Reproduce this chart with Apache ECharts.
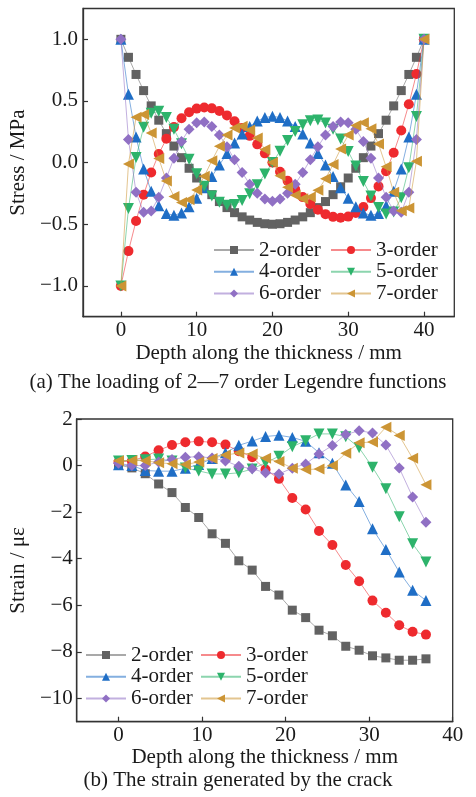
<!DOCTYPE html>
<html>
<head>
<meta charset="utf-8">
<script src="https://cdn.jsdelivr.net/npm/echarts@6/dist/echarts.min.js"></script>
<style>
html,body{margin:0;padding:0;background:#fff;}
#c{width:476px;height:797px;}
</style>
</head>
<body>
<div id="c"></div>
<script>
// ---------- Panel (a): loading of Legendre functions ----------
const depthA = [0,1,2,3,4,5,6,7,8,9,10,11,12,13,14,15,16,17,18,19,20,21,22,23,24,25,26,27,28,29,30,31,32,33,34,35,36,37,38,39,40];
const stress2 = [1,0.854,0.715,0.584,0.46,0.344,0.235,0.134,0.04,-0.046,-0.125,-0.196,-0.26,-0.316,-0.365,-0.406,-0.44,-0.466,-0.485,-0.496,-0.5,-0.496,-0.485,-0.466,-0.44,-0.406,-0.365,-0.316,-0.26,-0.196,-0.125,-0.046,0.04,0.134,0.235,0.344,0.46,0.584,0.715,0.854,1];
const stress3 = [-1,-0.718,-0.473,-0.26,-0.08,0.07,0.193,0.288,0.36,0.409,0.438,0.447,0.44,0.418,0.383,0.336,0.28,0.217,0.148,0.075,0,-0.075,-0.148,-0.217,-0.28,-0.336,-0.383,-0.418,-0.44,-0.447,-0.438,-0.409,-0.36,-0.288,-0.193,-0.07,0.08,0.26,0.473,0.718,1];
const stress4 = [1,0.554,0.208,-0.051,-0.233,-0.35,-0.412,-0.428,-0.408,-0.359,-0.289,-0.205,-0.113,-0.019,0.073,0.158,0.232,0.293,0.338,0.366,0.375,0.366,0.338,0.293,0.232,0.158,0.073,-0.019,-0.113,-0.205,-0.289,-0.359,-0.408,-0.428,-0.412,-0.35,-0.233,-0.051,0.208,0.554,1];
const stress5 = [-1,-0.373,0.041,0.286,0.4,0.416,0.365,0.27,0.153,0.028,-0.09,-0.192,-0.271,-0.322,-0.345,-0.34,-0.308,-0.252,-0.179,-0.093,0,0.093,0.179,0.252,0.308,0.34,0.345,0.322,0.271,0.192,0.09,-0.028,-0.153,-0.27,-0.365,-0.416,-0.4,-0.286,-0.041,0.373,1];
const stress6 = [1,0.187,-0.241,-0.403,-0.392,-0.281,-0.125,0.035,0.172,0.271,0.323,0.329,0.293,0.223,0.129,0.024,-0.081,-0.175,-0.249,-0.296,-0.313,-0.296,-0.249,-0.175,-0.081,0.024,0.129,0.223,0.293,0.329,0.323,0.271,0.172,0.035,-0.125,-0.281,-0.392,-0.403,-0.241,0.187,1];
const stress7 = [-1,-0.011,0.368,0.391,0.24,0.034,-0.15,-0.274,-0.323,-0.301,-0.223,-0.111,0.015,0.132,0.224,0.28,0.294,0.265,0.199,0.107,0,-0.107,-0.199,-0.265,-0.294,-0.28,-0.224,-0.132,-0.015,0.111,0.223,0.301,0.323,0.274,0.15,-0.034,-0.24,-0.391,-0.368,0.011,1];
const ticksXA = [0,10,20,30,40];
const ticksYA = [-1,-0.5,0,0.5,1];

// ---------- Panel (b): strain generated by the crack ----------
const depthB = [0,1.6,3.2,4.8,6.4,8,9.6,11.2,12.8,14.4,16,17.6,19.2,20.8,22.4,24,25.6,27.2,28.8,30.4,32,33.6,35.2,36.8];
const strain2 = [0.03,-0.1,-0.35,-0.79,-1.16,-1.8,-2.23,-2.93,-3.34,-4.09,-4.49,-5.19,-5.56,-6.21,-6.53,-7.07,-7.31,-7.76,-7.93,-8.17,-8.26,-8.36,-8.36,-8.3];
const strain3 = [0.15,0.2,0.39,0.66,0.88,1.0,1.04,1.0,0.9,0.62,0.36,-0.17,-0.57,-1.39,-1.89,-2.81,-3.41,-4.27,-4.97,-5.8,-6.32,-6.86,-7.14,-7.26];
const strain4 = [0.03,0.0,-0.21,-0.24,-0.24,-0.12,0.05,0.3,0.55,0.87,1.05,1.25,1.3,1.21,1.04,0.55,0.1,-0.83,-1.54,-2.71,-3.6,-4.57,-5.36,-5.79];
const strain5 = [0.2,0.22,0.25,0.28,0.2,-0.1,-0.23,-0.36,-0.36,-0.31,-0.15,0.12,0.4,0.81,1.07,1.36,1.36,1.24,0.76,-0.07,-1.0,-2.2,-3.36,-4.14];
const strain6 = [0.1,0.0,0.0,0.15,0.26,0.36,0.38,0.33,0.2,-0.03,-0.14,-0.31,-0.36,-0.11,0.07,0.5,0.86,1.33,1.5,1.4,0.88,-0.1,-1.35,-2.43];
const strain7 = [0.21,0.22,0.21,0.12,0.08,0.05,0.15,0.3,0.45,0.54,0.5,0.31,0.17,-0.11,-0.17,-0.15,0.0,0.53,0.98,1.01,1.65,1.29,0.31,-0.82];
const ticksXB = [0,10,20,30,40];
const ticksYB = [-10,-8,-6,-4,-2,0,2];

const names = ['2-order','3-order','4-order','5-order','6-order','7-order'];
const colors = ['#626262','#ee2a2e','#1f6ec6','#2db36b','#9070c4','#cc9535'];
const symbols = ['rect','circle','triangle','triangle','diamond','triangle'];
const rotates = [0,0,0,180,0,90];
const sizesA = [9,10,11,11,11,11];
const sizesB = [9,10,11,11,11,11];

const FONT = 'Liberation Serif';
const TXT = '#1a1a1a';
const minus = v => String(v).replace('-', '\u2212');

function mkSeries(x, ys, xi, yi, sizes) {
  return ys.map((arr, k) => ({
    name: names[k], type: 'line', xAxisIndex: xi, yAxisIndex: yi,
    data: arr.map((v, i) => [x[i], v]),
    symbol: symbols[k], symbolRotate: rotates[k], symbolSize: sizes[k],
    color: colors[k],
    itemStyle: {color: colors[k], opacity: 1},
    lineStyle: {color: colors[k], width: 1, opacity: 0.55},
    showAllSymbol: true, animation: false, z: 2 + k
  }));
}

function xAxisCfg(grid, min, max, ticks, gap) {
  return {
    type: 'value', gridIndex: grid, min: min, max: max,
    splitLine: {show: false},
    axisLine: {show: true, onZero: false, lineStyle: {color: '#333', width: 1.3}},
    axisTick: {show: true, inside: true, length: 5, customValues: ticks, lineStyle: {color: '#333', width: 1.2}},
    axisLabel: {customValues: ticks, fontFamily: FONT, fontSize: 21, color: TXT, margin: 3, formatter: minus},
    name: 'Depth along the thickness / mm', nameLocation: 'middle', nameGap: gap,
    nameTextStyle: {fontFamily: FONT, fontSize: 21, color: TXT}
  };
}
function yAxisCfg(grid, min, max, ticks, fmt, name, gap, margin) {
  return {
    type: 'value', gridIndex: grid, min: min, max: max,
    splitLine: {show: false},
    axisLine: {show: true, onZero: false, lineStyle: {color: '#333', width: 1.3}},
    axisTick: {show: true, inside: true, length: 5, customValues: ticks, lineStyle: {color: '#333', width: 1.2}},
    axisLabel: {customValues: ticks, fontFamily: FONT, fontSize: 21, color: TXT, margin: margin, formatter: fmt},
    name: name, nameLocation: 'middle', nameGap: gap, nameRotate: 90,
    nameTextStyle: {fontFamily: FONT, fontSize: 21, color: TXT}
  };
}
function legendCfg(data, left, top) {
  return {
    data: data, orient: 'vertical', left: left, top: top,
    itemWidth: 40, itemHeight: 10, itemGap: 0.7, padding: 0,
    textStyle: {fontFamily: FONT, fontSize: 21, color: TXT, lineHeight: 21},
    selectedMode: false
  };
}

const chart = echarts.init(document.getElementById('c'), null, {renderer: 'canvas'});
chart.setOption({
  backgroundColor: '#fff',
  animation: false,
  grid: [
    {left: 76.7, right: 21.7, top: 8.5, height: 308.2, show: true, borderColor: '#333', borderWidth: 1.3, backgroundColor: 'transparent'},
    {left: 75, right: 23.3, top: 419, height: 302.7, show: true, borderColor: '#333', borderWidth: 1.3, backgroundColor: 'transparent'}
  ],
  xAxis: [xAxisCfg(0, -5, 44, ticksXA, 26), xAxisCfg(1, -5, 40, ticksXB, 24)],
  yAxis: [
    yAxisCfg(0, -1.25, 1.25, ticksYA, v => minus(v.toFixed(1)), 'Stress / MPa', 45, 5),
    yAxisCfg(1, -11, 2, ticksYB, v => minus(v), 'Strain / \u03bc\u03b5', 45, 4)
  ],
  legend: [
    legendCfg(['2-order','4-order','6-order'], 213, 239.5),
    legendCfg(['3-order','5-order','7-order'], 330, 239.5),
    legendCfg(['2-order','4-order','6-order'], 85, 644.5),
    legendCfg(['3-order','5-order','7-order'], 200, 644.5)
  ],
  graphic: [
    {type: 'text', left: 'center', top: 372, style: {text: '(a) The loading of 2\u20147 order Legendre functions', font: '21px "Liberation Serif"', fill: TXT}},
    {type: 'text', left: 'center', top: 770, style: {text: '(b) The strain generated by the crack', font: '21px "Liberation Serif"', fill: TXT}}
  ],
  series: [].concat(
    mkSeries(depthA, [stress2,stress3,stress4,stress5,stress6,stress7], 0, 0, sizesA),
    mkSeries(depthB, [strain2,strain3,strain4,strain5,strain6,strain7], 1, 1, sizesB)
  )
});
</script>
</body>
</html>
